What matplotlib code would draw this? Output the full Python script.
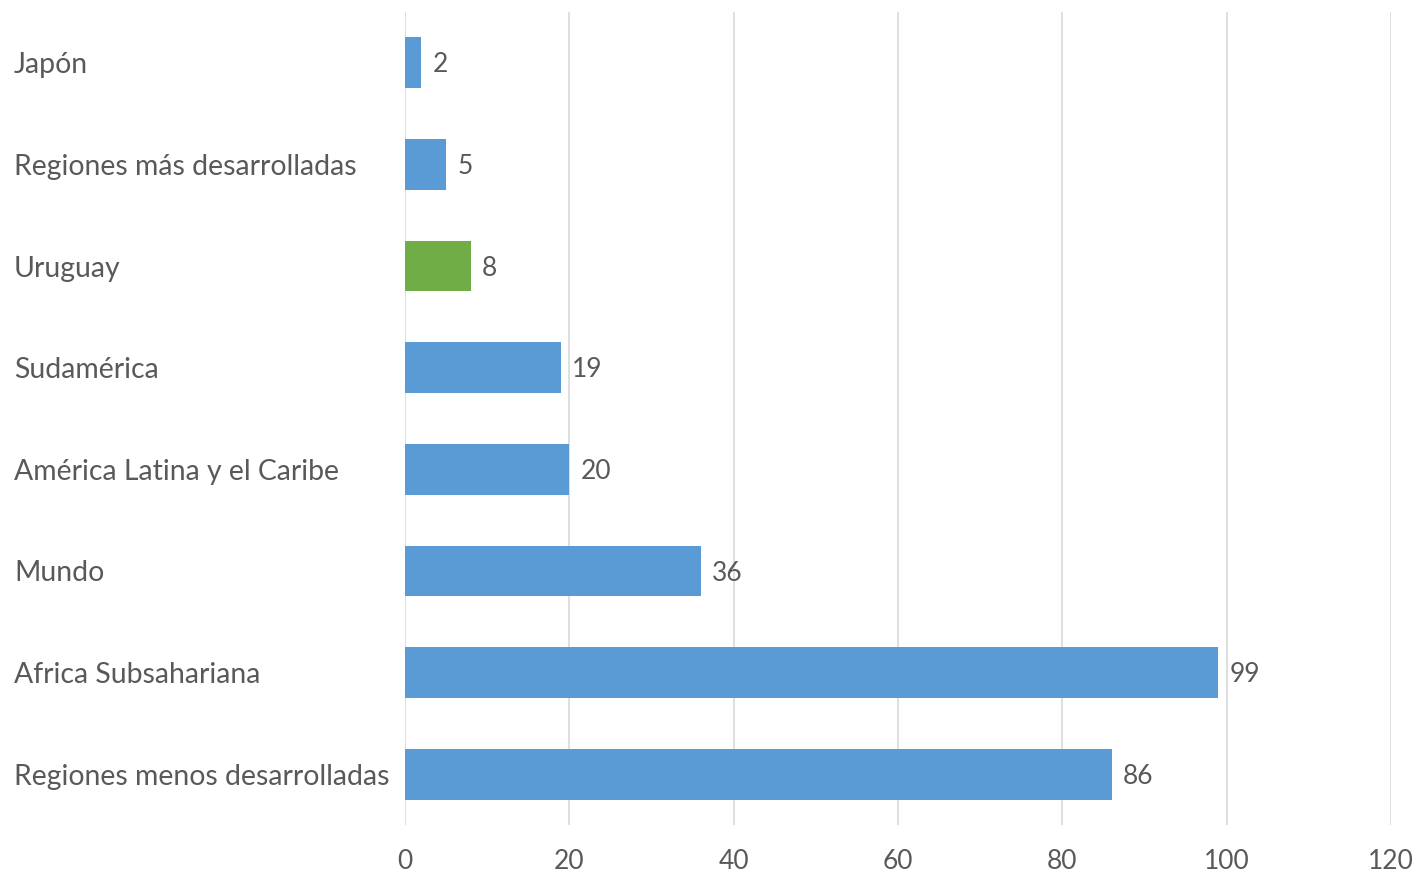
import matplotlib.pyplot as plt

categories = [
    "Japón",
    "Regiones más desarrolladas",
    "Uruguay",
    "Sudamérica",
    "América Latina y el Caribe",
    "Mundo",
    "Africa Subsahariana",
    "Regiones menos desarrolladas",
]
values = [2, 5, 8, 19, 20, 36, 99, 86]
highlight = "Uruguay"
x_ticks = [0, 20, 40, 60, 80, 100, 120]

blue = "#5B9BD5"
green = "#70AD47"
text_color = "#595959"
grid_color = "#D9D9D9"

plt.rcParams["font.family"] = ["Lato", "DejaVu Sans"]

fig = plt.figure(figsize=(14.18, 8.75), dpi=100)
ax = fig.add_axes([405 / 1418, 1 - 825 / 875, (1391 - 405) / 1418, (825 - 12) / 875])

positions = list(range(len(categories)))
colors = [green if c == highlight else blue for c in categories]
ax.barh(positions, values, height=0.5, color=colors, zorder=3)

# value labels right of each bar
for pos, val in zip(positions, values):
    ax.annotate(
        str(val),
        xy=(val, pos),
        xytext=(8, -1.5),
        textcoords="offset points",
        ha="left",
        va="center",
        fontsize=19,
        color=text_color,
    )

ax.set_xlim(0, 120)
ax.set_ylim(len(categories) - 0.5, -0.5)
ax.set_xticks(x_ticks)
ax.set_yticks(positions)
ax.set_yticklabels(categories)
for lbl in ax.get_yticklabels():
    lbl.set_horizontalalignment("left")

ax.tick_params(axis="y", length=0, pad=391 * 0.72, labelsize=20.4, labelcolor=text_color)
ax.tick_params(axis="x", length=0, pad=17, labelsize=19, labelcolor=text_color)

ax.grid(axis="x", color=grid_color, linewidth=1.2, zorder=0)
for side in ["top", "right", "bottom", "left"]:
    ax.spines[side].set_visible(False)

fig.savefig("out.png", dpi=100)
